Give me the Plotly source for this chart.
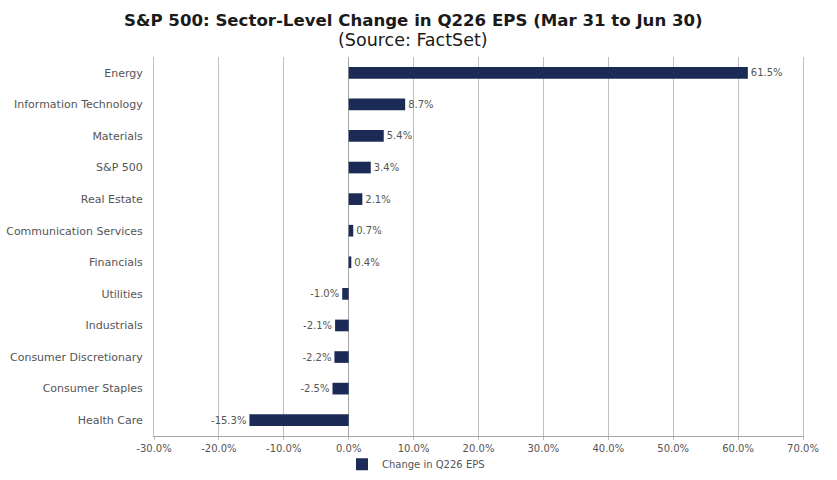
import plotly.graph_objects as go

sectors = ["Energy", "Information Technology", "Materials", "S&P 500", "Real Estate",
           "Communication Services", "Financials", "Utilities", "Industrials",
           "Consumer Discretionary", "Consumer Staples", "Health Care"]
changes = [61.5, 8.7, 5.4, 3.4, 2.1, 0.7, 0.4, -1.0, -2.1, -2.2, -2.5, -15.3]
tick_vals = [-30, -20, -10, 0, 10, 20, 30, 40, 50, 60, 70]
tick_text = [f"{v:.1f}%" for v in tick_vals]
series_name = "Change in Q226 EPS"
title_text = "S&P 500: Sector-Level Change in Q226 EPS (Mar 31 to Jun 30)"
subtitle_text = "(Source: FactSet)"

FONT = "DejaVu Sans, Verdana, sans-serif"

fig = go.Figure()
fig.add_trace(go.Bar(
    y=sectors, x=changes, orientation="h", name=series_name,
    marker=dict(color="#1c2a56", line=dict(width=0)),
    text=[f"{v:.1f}%" for v in changes], textposition="outside",
    textfont=dict(family=FONT, size=10, color="#555555"),
    cliponaxis=False, showlegend=True,
))

fig.update_layout(
    width=837, height=480,
    margin=dict(l=154, r=34, t=57, b=44, autoexpand=False),
    paper_bgcolor="white", plot_bgcolor="white",
    bargap=0.63,
    font=dict(family=FONT, color="#555555"),
    xaxis=dict(
        range=[-30, 70], tickvals=tick_vals, ticktext=tick_text,
        showgrid=True, gridcolor="#c0c0c0", gridwidth=1,
        zeroline=True, zerolinecolor="#a6a6a6", zerolinewidth=1,
        showline=True, linecolor="#a6a6a6", linewidth=1,
        ticks="outside", ticklen=3, tickcolor="#c0c0c0",
        tickfont=dict(family=FONT, size=10, color="#555555"),
    ),
    yaxis=dict(
        autorange="reversed", showgrid=False,
        showline=True, linecolor="#c0c0c0", linewidth=1, mirror=True,
        ticks="", ticklabelstandoff=8,
        tickfont=dict(family=FONT, size=11, color="#555555"),
    ),
    legend=dict(
        orientation="h", xref="container", yref="container",
        x=0.497, xanchor="center", y=0.033, yanchor="middle",
        bgcolor="rgba(0,0,0,0)",
        font=dict(family=FONT, size=10, color="#555555"),
        itemwidth=30,
    ),
    annotations=[
        dict(text=f"<b>{title_text}</b>", xref="paper", yref="paper",
             x=(413 - 154) / 649, y=1 + (57 - 20) / 379, xanchor="center", yanchor="middle",
             showarrow=False, font=dict(family=FONT, size=16.6, color="#1a1a1a")),
        dict(text=subtitle_text, xref="paper", yref="paper",
             x=(413 - 154) / 649, y=1 + (57 - 40) / 379, xanchor="center", yanchor="middle",
             showarrow=False, font=dict(family=FONT, size=17.5, color="#1a1a1a")),
    ],
)

fig.write_html("out.html")
